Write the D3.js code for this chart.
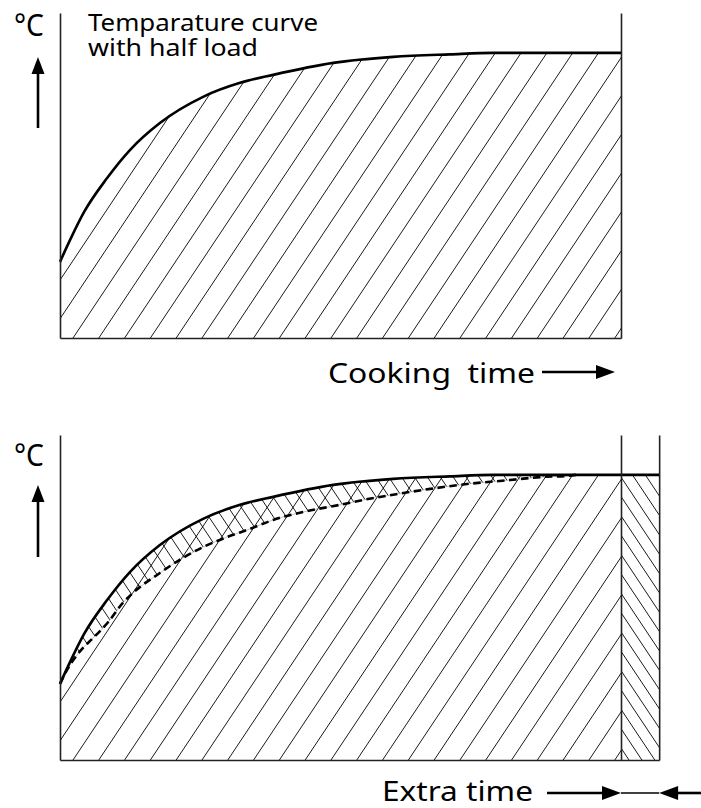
<!DOCTYPE html>
<html>
<head>
<meta charset="utf-8">
<script src="https://cdn.jsdelivr.net/npm/d3@7"></script>
<style>
  body { margin: 0; background: #fff; }
  text { font-family: "Noto Sans", sans-serif; fill: #000; }
</style>
</head>
<body>
<div id="chart"></div>
<script>
const width = 701;
const height = 808;

// time in % of normal cooking time, temperature in % of end temperature
const halfLoadTime = [0, 1.8, 4.3, 8.4, 12.5, 17.8, 25.5, 32.1, 38, 48.7, 59.4, 69.5, 77.2, 100];
const halfLoadTemp = [26.7, 34.4, 44.2, 56.1, 66.0, 75.4, 84.6, 89.5, 92.3, 96.5, 98.6, 99.5, 100, 100];

const fullLoadTime = [0, 1.25, 4.1, 5.9, 8.6, 11.2, 13.0, 17.8, 21.9, 25.5, 29.8, 33.9, 38.0, 43.3, 49.9, 54.0, 60.1, 66.0, 72.5, 80.2, 86.1, 90.0, 92];
const fullLoadTemp = [26.7, 31.6, 39.3, 42.8, 48.4, 55.1, 58.6, 65.6, 70.9, 74.7, 78.2, 81.1, 84.2, 87.0, 89.5, 91.2, 93.3, 95.1, 96.8, 98.2, 99.3, 99.6, 100];

const extraTime = [100, 106.8];
const extraTemp = [100, 100];

const tempMax = 114;

const halfLoad = halfLoadTime.map((t, i) => ({t, v: halfLoadTemp[i]}));
const fullLoad = fullLoadTime.map((t, i) => ({t, v: fullLoadTemp[i]}));
const extra = extraTime.map((t, i) => ({t, v: extraTemp[i]}));

const svg = d3.select("#chart")
  .append("svg")
  .attr("width", width)
  .attr("height", height);

const x = d3.scaleLinear().domain([0, 100]).range([60, 621]);
const xLong = d3.scaleLinear().domain([0, extraTime[1]]).range([60, x(extraTime[1])]);
const yTop = d3.scaleLinear().domain([0, tempMax]).range([338, 13]);
const yBot = d3.scaleLinear().domain([0, tempMax]).range([760, 435]);

const defs = svg.append("defs");

function areaUnder(y) {
  return d3.area().x(d => x(d.t)).y0(y(0)).y1(d => y(d.v)).curve(d3.curveMonotoneX);
}
function areaAbove(y) {
  return d3.area().x(d => x(d.t)).y0(y(tempMax)).y1(d => y(d.v)).curve(d3.curveMonotoneX);
}
function curve(y) {
  return d3.line().x(d => x(d.t)).y(d => y(d.v)).curve(d3.curveMonotoneX);
}

function clip(id, d) {
  defs.append("clipPath").attr("id", id).append("path").attr("d", d);
  return `url(#${id})`;
}

// diagonal hatching: dir 1 = "/", dir -1 = "\"
function hatch(g, baseY, start, step, dir) {
  const h = 420;
  const offs = d3.range(-40, 60).map(k => start + k * step);
  g.selectAll("line")
    .data(offs)
    .join("line")
    .attr("x1", d => d)
    .attr("y1", baseY)
    .attr("x2", d => d + dir * h / 1.5)
    .attr("y2", baseY - h)
    .attr("stroke", "#000")
    .attr("stroke-width", 0.9);
}

function axes(g, y, xs, rights) {
  g.append("g")
    .attr("transform", `translate(${xs(0)},0)`)
    .call(d3.axisLeft(y).tickValues([]).tickSizeOuter(0));
  g.append("g")
    .attr("transform", `translate(0,${y(0)})`)
    .call(d3.axisBottom(xs).tickValues([]).tickSizeOuter(0));
  rights.forEach(t => {
    g.append("g")
      .attr("transform", `translate(${xs(t)},0)`)
      .call(d3.axisRight(y).tickValues([]).tickSizeOuter(0));
  });
  g.selectAll(".domain").attr("stroke", "#222").attr("stroke-width", 1.6);
}

function upArrow(xp, tip, bottom) {
  svg.append("line")
    .attr("x1", xp).attr("x2", xp)
    .attr("y1", tip + 12).attr("y2", bottom)
    .attr("stroke", "#000").attr("stroke-width", 2.6);
  svg.append("path")
    .attr("d", `M${xp},${tip}L${xp + 6.5},${tip + 17}L${xp - 6.5},${tip + 17}Z`)
    .attr("fill", "#000");
}

function hArrow(x1, tip, yp, w) {
  const dir = tip > x1 ? 1 : -1;
  svg.append("line")
    .attr("x1", x1).attr("x2", tip - dir * 12)
    .attr("y1", yp).attr("y2", yp)
    .attr("stroke", "#000").attr("stroke-width", w);
  svg.append("path")
    .attr("d", `M${tip},${yp}L${tip - dir * 19},${yp - 7}L${tip - dir * 19},${yp + 7}Z`)
    .attr("fill", "#000");
}

// the lettering of the original is set wide, so stretch it to its width
function label(xp, yp, size, len, s) {
  return svg.append("text")
    .attr("x", xp).attr("y", yp)
    .attr("font-size", size)
    .attr("textLength", len)
    .attr("lengthAdjust", "spacingAndGlyphs")
    .style("white-space", "pre")
    .text(s);
}

// ---------- top chart: half load ----------
const topChart = svg.append("g");

topChart.append("g")
  .attr("clip-path", clip("underTop", areaUnder(yTop)(halfLoad)))
  .call(g => hatch(g, yTop(0), 73, 25.8, 1));

topChart.append("path")
  .attr("d", curve(yTop)(halfLoad))
  .attr("fill", "none")
  .attr("stroke", "#000")
  .attr("stroke-width", 2.6);

axes(topChart, yTop, x, [100]);

label(14, 36, 30, 30, "°C");
upArrow(38, 57, 128);

const title = svg.append("text").attr("font-size", 23);
title.append("tspan").attr("x", 88).attr("y", 31)
  .attr("textLength", 230).attr("lengthAdjust", "spacingAndGlyphs")
  .text("Temparature curve");
title.append("tspan").attr("x", 88).attr("y", 56)
  .attr("textLength", 170).attr("lengthAdjust", "spacingAndGlyphs")
  .text("with half load");

label(328, 383, 28, 207, "Cooking  time");
hArrow(542, 615, 372, 2.6);

// ---------- bottom chart: full load + extra time ----------
const botChart = svg.append("g");

botChart.append("g")
  .attr("clip-path", clip("underBot", areaUnder(yBot)(halfLoad)))
  .call(g => hatch(g, yBot(0), 73, 25.8, 1));

botChart.append("g")
  .attr("clip-path", clip("underBand", areaUnder(yBot)(halfLoad)))
  .append("g")
  .attr("clip-path", clip("aboveFull", areaAbove(yBot)(fullLoad)))
  .call(g => hatch(g, yBot(0), 629, 12.9, -1));

botChart.append("g")
  .attr("clip-path", clip("extraArea", areaUnder(yBot)(extra)))
  .call(g => hatch(g, yBot(0), 629, 12.9, -1));

botChart.append("path")
  .attr("d", curve(yBot)(fullLoad))
  .attr("fill", "none")
  .attr("stroke", "#999")
  .attr("stroke-width", 0.6);

botChart.append("path")
  .attr("d", curve(yBot)(fullLoad))
  .attr("fill", "none")
  .attr("stroke", "#000")
  .attr("stroke-width", 2.6)
  .attr("stroke-dasharray", "7.5,4.5");

botChart.append("path")
  .attr("d", curve(yBot)(halfLoad.concat(extra)))
  .attr("fill", "none")
  .attr("stroke", "#000")
  .attr("stroke-width", 2.6);

axes(botChart, yBot, xLong, [100, extraTime[1]]);

label(14, 466, 30, 30, "°C");
upArrow(38, 485, 557);

label(382, 801, 28, 151, "Extra time");
hArrow(547, xLong(extraTime[0]), 793, 2.6);
svg.append("line")
  .attr("x1", xLong(extraTime[0])).attr("x2", xLong(extraTime[1]))
  .attr("y1", 793).attr("y2", 793)
  .attr("stroke", "#000").attr("stroke-width", 1.4);
hArrow(701, xLong(extraTime[1]), 793, 2.6);
</script>
</body>
</html>
